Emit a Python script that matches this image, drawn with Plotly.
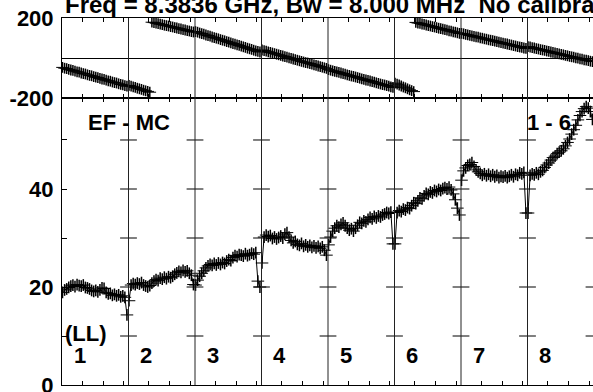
import plotly.graph_objects as go

# channels plotted in each IF (every other channel of 64)
channels = list(range(1, 64, 2))
n_if = 8
nchan = 64

# amplitude per IF (lower panel)
amp_if1 = [18.9, 19.4, 19.6, 19.9, 20.2, 20.4, 20.1, 20.5, 20.3, 20.2, 20.4, 19.9, 19.8, 19.6, 19.3, 19.1,
           19.3, 19.0, 19.4, 19.8, 19.7, 18.9, 18.6, 18.7, 18.3, 18.5, 18.2, 18.4, 18.0, 18.2, 17.9, 14.3]
amp_if2 = [17.2, 20.4, 20.7, 20.5, 20.8, 20.6, 20.9, 20.4, 20.2, 20.0, 20.3, 20.8, 21.2, 21.5, 21.3, 21.8,
           21.6, 22.0, 21.7, 22.1, 21.9, 22.2, 22.6, 22.9, 23.2, 23.0, 23.4, 23.1, 23.3, 22.8, 22.4, 20.5]
amp_if3 = [20.4, 21.4, 22.2, 22.8, 23.3, 23.9, 24.3, 24.6, 24.4, 24.8, 24.5, 24.9, 24.6, 25.0, 24.8, 25.3,
           25.6, 25.4, 26.0, 26.4, 26.2, 26.6, 26.5, 26.3, 26.8, 26.4, 26.6, 26.9, 26.7, 27.0, 21.2, 20.0]
amp_if4 = [24.9, 30.2, 30.6, 30.3, 30.5, 29.9, 30.2, 29.8, 30.1, 30.4, 30.0, 30.8, 31.1, 30.2, 29.5, 29.0,
           29.3, 28.7, 28.5, 28.9, 28.3, 28.6, 28.2, 28.5, 28.1, 28.4, 28.0, 28.3, 27.9, 28.2, 27.5, 26.5]
amp_if5 = [28.6, 30.2, 31.4, 32.0, 32.5, 32.2, 32.8, 33.1, 32.5, 32.0, 31.6, 31.9, 31.4, 32.0, 32.6, 33.2,
           33.0, 33.5, 33.3, 33.8, 34.2, 33.9, 34.4, 34.1, 34.5, 34.3, 34.7, 34.9, 35.2, 35.0, 35.3, 28.8]
amp_if6 = [28.8, 35.2, 35.6, 35.4, 35.9, 35.7, 36.2, 36.0, 36.6, 37.2, 37.0, 37.6, 38.2, 38.0, 38.6, 39.1,
           38.9, 39.4, 39.2, 39.7, 39.5, 39.9, 39.7, 40.1, 40.3, 40.0, 40.4, 39.8, 39.0, 37.8, 36.1, 34.7]
amp_if7 = [41.8, 43.7, 44.3, 44.8, 45.0, 45.4, 44.6, 43.9, 43.5, 43.2, 42.8, 43.1, 42.7, 43.0, 42.6, 42.9,
           42.5, 42.8, 42.3, 42.6, 42.4, 42.7, 42.3, 42.6, 42.9, 42.5, 43.0, 42.8, 43.3, 43.1, 43.4, 35.1]
amp_if8 = [35.1, 42.8, 43.1, 42.9, 43.3, 43.0, 43.5, 43.8, 44.4, 44.9, 45.3, 45.9, 46.4, 46.7, 47.2, 47.5,
           47.8, 48.2, 48.8, 49.5, 50.2, 51.2, 52.1, 53.0, 54.1, 55.0, 55.8, 56.4, 56.8, 56.5, 55.8, 54.2]

# phase per IF (upper panel, degrees)
phase_if1 = [-47, -51, -53, -57, -60, -62, -66, -69, -71, -75, -78, -80, -84, -87, -89, -93,
             -96, -98, -102, -105, -107, -111, -114, -116, -120, -123, -125, -129, -132, -134, -138, -141]
phase_if2 = [-137, -141, -144, -147, -151, -154, -157, -161, -164, -167, -171, 179, 177, 174, 172, 169,
             167, 164, 162, 160, 157, 155, 152, 150, 147, 145, 142, 140, 137, 135, 132, 130]
phase_if3 = [132, 129, 125, 122, 119, 115, 112, 109, 105, 102, 99, 96, 92, 89, 86, 82,
             79, 76, 72, 69, 66, 63, 59, 56, 53, 49, 46, 43, 39, 36, 33, 30]
phase_if4 = [40, 37, 34, 31, 28, 25, 22, 19, 16, 13, 10, 7, 4, 1, -2, -5,
             -8, -11, -14, -17, -20, -23, -25, -28, -31, -34, -37, -40, -43, -46, -49, -52]
phase_if5 = [-58, -61, -64, -67, -69, -72, -75, -78, -81, -84, -87, -90, -92, -95, -98, -101,
             -104, -107, -110, -112, -115, -118, -121, -124, -127, -130, -133, -135, -138, -141, -144, -147]
phase_if6 = [-126, -131, -135, -140, -145, -149, -154, -159, -163, -168, 178, 175, 173, 170, 168, 165,
             162, 160, 157, 155, 152, 149, 147, 144, 142, 139, 136, 134, 131, 129, 126, 123]
phase_if7 = [123, 121, 118, 116, 113, 111, 108, 106, 104, 101, 99, 96, 94, 91, 89, 87,
             84, 82, 79, 77, 74, 72, 70, 67, 65, 62, 60, 57, 55, 53, 50, 48]
phase_if8 = [57, 55, 52, 50, 47, 45, 42, 40, 38, 35, 33, 30, 28, 25, 23, 21,
             18, 16, 13, 11, 8, 6, 4, 1, -1, -4, -6, -9, -11, -13, -16, -18]

amp = [amp_if1, amp_if2, amp_if3, amp_if4, amp_if5, amp_if6, amp_if7, amp_if8]
phase = [phase_if1, phase_if2, phase_if3, phase_if4, phase_if5, phase_if6, phase_if7, phase_if8]

title_text = "Freq = 8.3836 GHz, Bw = 8.000 MHz\u00a0\u00a0No calibration"
baseline_label = "EF - MC"
stokes_label = "(LL)"
time_label = "1 - 6"

FONT = "Liberation Sans, Arial, Helvetica, sans-serif"
xmax = n_if * nchan * 531 / 532  # last panel runs just past the window edge

fig = go.Figure()

for k in range(n_if):
    xs = [k * nchan + c - 0.5 for c in channels]
    # amplitude
    fig.add_trace(go.Scatter(
        x=xs, y=amp[k], mode="lines+markers",
        line=dict(color="black", width=1),
        marker=dict(symbol="line-ew", size=9, line=dict(color="black", width=1)),
        error_y=dict(type="constant", value=1.2, width=0, thickness=1.5, color="black"),
        xaxis="x", yaxis="y", showlegend=False, hoverinfo="skip"
    ))
    # phase
    fig.add_trace(go.Scatter(
        x=xs, y=phase[k], mode="markers",
        marker=dict(symbol="line-ew", size=9, line=dict(color="black", width=1)),
        error_y=dict(type="constant", value=27, width=0, thickness=1.5, color="black"),
        xaxis="x2", yaxis="y2", cliponaxis=False, showlegend=False, hoverinfo="skip"
    ))

# little crosses where the IF boundaries meet the amplitude ticks
bounds = [nchan * k for k in range(1, n_if + 1)]
levels = [10, 20, 30, 40, 50]
fig.add_trace(go.Scatter(
    x=[b for b in bounds for v in levels],
    y=[v for b in bounds for v in levels],
    mode="markers",
    marker=dict(symbol="line-ew", size=12, line=dict(color="black", width=1)),
    xaxis="x", yaxis="y", showlegend=False, hoverinfo="skip"
))

# vertical IF separators through both panels
for b in bounds[:-1]:
    fig.add_shape(type="line", xref="x", yref="paper", x0=b, x1=b, y0=0, y1=1,
                  line=dict(color="#222222", width=1))

tickpos = [k * nchan + t - 0.5 for k in range(n_if) for t in (20, 40, 60)]
xaxis_common = dict(
    range=[0, xmax], showline=True, linecolor="black", linewidth=1, mirror="ticks",
    ticks="inside", ticklen=4, tickcolor="black", tickvals=tickpos,
    showticklabels=False, showgrid=False, zeroline=False, domain=[0, 1]
)
split = 287 / 367

fig.update_layout(
    width=593, height=392,
    margin=dict(l=62, r=0, t=18, b=7, pad=0),
    paper_bgcolor="white", plot_bgcolor="white",
    font=dict(family=FONT, size=22, color="black", weight="bold"),
    template="none",
    xaxis=dict(anchor="y", **xaxis_common),
    xaxis2=dict(anchor="y2", matches="x", **xaxis_common),
    yaxis=dict(
        domain=[0, split], range=[0, 58.57], anchor="x",
        tickvals=[0, 10, 20, 30, 40, 50], ticktext=["0", "", "20", "", "40", ""],
        ticks="inside", ticklen=5, tickcolor="black", ticklabelstandoff=3,
        ticklabeloverflow="allow",
        showline=True, linecolor="black", linewidth=1, mirror=True,
        showgrid=False, zeroline=False, automargin=False
    ),
    yaxis2=dict(
        domain=[split, 1], range=[-200, 200], anchor="x2",
        tickvals=[-200, 200], ticktext=["-200", "200"], ticks="", ticklabelstandoff=3,
        ticklabeloverflow="allow",
        showline=True, linecolor="black", linewidth=1, mirror=True,
        showgrid=False, zeroline=True, zerolinecolor="black", zerolinewidth=1,
        automargin=False
    ),
)

fig.add_annotation(text=title_text, xref="paper", yref="paper", x=0.002, y=1 + 14 / 367,
                   xanchor="left", yanchor="middle", showarrow=False, font=dict(size=24))
fig.add_annotation(text=baseline_label, xref="x", yref="y", x=23.1, y=53.5,
                   xanchor="left", yanchor="middle", showarrow=False)
fig.add_annotation(text=time_label, xref="x", yref="y", x=445.6, y=53.5,
                   xanchor="left", yanchor="middle", showarrow=False)
fig.add_annotation(text=stokes_label, xref="x", yref="y", x=1, y=10.6,
                   xanchor="left", yanchor="middle", showarrow=False)
for k in range(n_if):
    fig.add_annotation(text=str(k + 1), xref="x", yref="y", x=k * nchan + 9.6, y=6.0,
                       xanchor="left", yanchor="middle", showarrow=False)

# drop the default page margin so the figure sits at the window corner
fig.write_html("out.html", config={"displayModeBar": False},
               post_script="document.body.style.margin='0';document.body.style.overflow='hidden';")
